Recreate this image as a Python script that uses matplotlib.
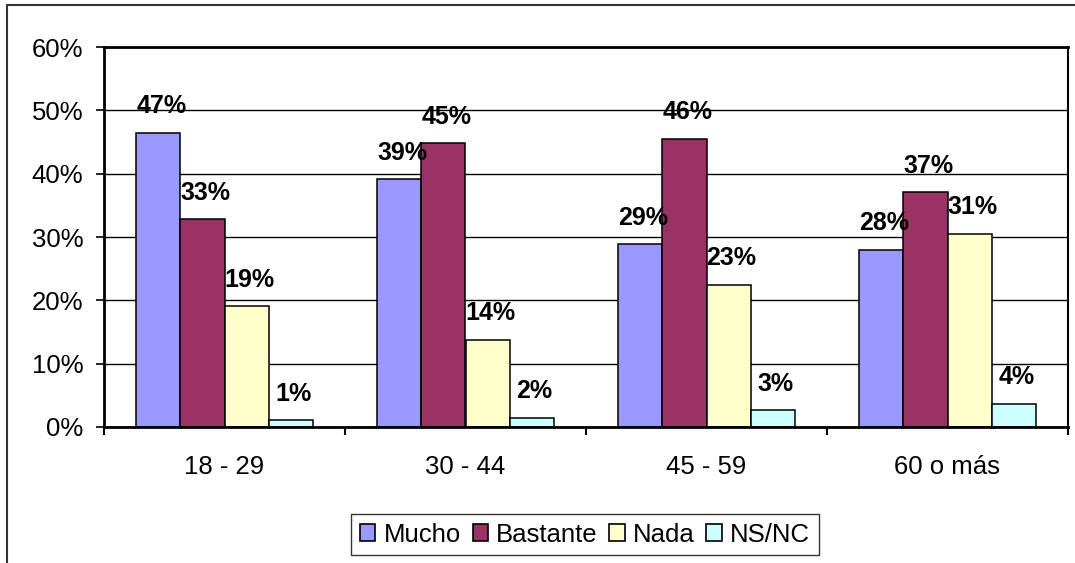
import math
import matplotlib
matplotlib.use("Agg")
import matplotlib.pyplot as plt
from matplotlib.patches import Patch
from matplotlib.lines import Line2D

plt.rcParams['font.family'] = ['Liberation Sans', 'DejaVu Sans']

categories = ["18 - 29", "30 - 44", "45 - 59", "60 o más"]
series_names = ["Mucho", "Bastante", "Nada", "NS/NC"]
mucho = [46.5, 39.1, 28.9, 28.0]
bastante = [32.8, 44.8, 45.5, 37.1]
nada = [19.1, 13.8, 22.5, 30.5]
nsnc = [1.1, 1.5, 2.7, 3.7]
colors = ["#9999FF", "#993366", "#FFFFCC", "#CCFFFF"]
yticks = [0, 10, 20, 30, 40, 50, 60]

series = [mucho, bastante, nada, nsnc]

fig = plt.figure(figsize=(10.75, 5.63), dpi=100)
ax = fig.add_axes([104/1075, 1-427/563, (1068-104)/1075, (427-47)/563])

w = 0.1826
for i, (vals, col, name) in enumerate(zip(series, colors, series_names)):
    xs = [c + (i - 1.5) * w for c in range(len(categories))]
    ax.bar(xs, vals, width=w, color=col, edgecolor='black', linewidth=1.1, zorder=3, label=name)
    for x, v in zip(xs, vals):
        ax.annotate(f"{int(math.floor(v + 0.5))}%", xy=(x, v), xytext=(2, 19),
                    textcoords='offset points', ha='center', va='center',
                    fontsize=18, fontweight='bold', zorder=5)

ax.set_xlim(-0.5, len(categories) - 0.5)
ax.set_ylim(0, 60)
ax.set_yticks(yticks)
ax.set_yticklabels([f"{t}%" for t in yticks], fontsize=18.5)
ax.yaxis.grid(True, color='black', linewidth=1.0, zorder=0)
ax.tick_params(axis='y', length=6, width=1.2, pad=9, direction='out')

ax.set_xticks([c - 0.5 for c in range(len(categories) + 1)])
ax.set_xticklabels([])
ax.set_xticks(range(len(categories)), minor=True)
ax.set_xticklabels(categories, minor=True, fontsize=18.5)
ax.tick_params(axis='x', which='major', length=6, width=1.5, direction='out')
ax.tick_params(axis='x', which='minor', length=0, pad=20)

for s in ['left', 'bottom', 'top']:
    ax.spines[s].set_linewidth(2.0)
ax.spines['right'].set_linewidth(1.5)
for s in ax.spines.values():
    s.set_color('black')
    s.set_zorder(4)

handles = [Patch(facecolor=c, edgecolor='black', linewidth=1.2) for c in colors]
leg = fig.legend(handles, series_names, loc='center', bbox_to_anchor=(585/1075, 1-534.5/563),
                 ncol=4, fontsize=18.5, frameon=True, fancybox=False, handlelength=0.6,
                 handleheight=0.6, handletextpad=0.32, columnspacing=0.45, borderpad=0.35,
                 borderaxespad=0)
leg.get_frame().set_edgecolor('black')
leg.get_frame().set_linewidth(1.0)

# outer chart border (top and left visible)
fig.add_artist(Line2D([7/1075, 7/1075, 1.0], [0.0, 1-5/563, 1-5/563],
                      transform=fig.transFigure, color='#333333', linewidth=1.5))

fig.savefig("out.png", dpi=100)
